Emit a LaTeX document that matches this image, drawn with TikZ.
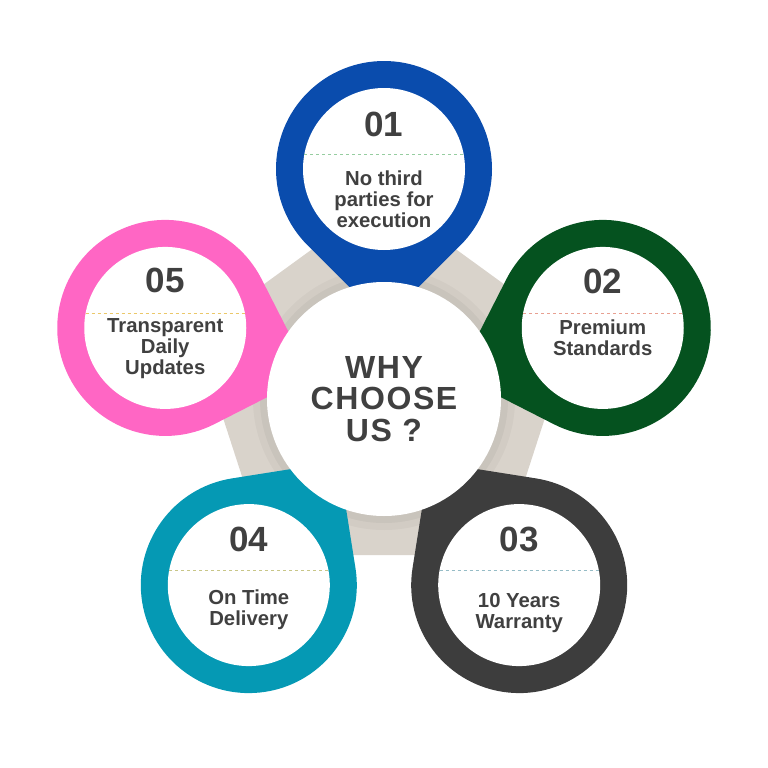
\documentclass[tikz,border=0pt]{standalone}
\usepackage{fontspec}
\setmainfont{Liberation Sans}
\usetikzlibrary{calc}
\definecolor{cblue}{HTML}{0A4CAD}
\definecolor{cgreen}{HTML}{05521F}
\definecolor{cgray}{HTML}{3D3D3D}
\definecolor{cteal}{HTML}{0599B4}
\definecolor{cpink}{HTML}{FF66C4}
\definecolor{beige}{HTML}{D9D3CB}
\definecolor{chu}{HTML}{404040}
\begin{document}
\begin{tikzpicture}[x=1pt,y=-1pt,
 so/.style={text=chu,inner sep=0pt,font=\bfseries\fontsize{35}{35}\selectfont},
 chu/.style={text=chu,inner sep=0pt,align=center,font=\bfseries\fontsize{20.3}{21}\selectfont},
 gach/.style={dashed,line width=.8pt},
 ]
 \useasboundingbox (0,0) rectangle (768,768);
 \coordinate (O) at (384,399);
 \coordinate (Q) at (384,395);
 \coordinate (P1) at ($(O)+(270:230)$);
 \coordinate (P2) at ($(O)+(342:230)$);
 \coordinate (P3) at ($(O)+(54:230)$);
 \coordinate (P4) at ($(O)+(126:230)$);
 \coordinate (P5) at ($(O)+(198:230)$);
 % nen ngu giac
 \fill[beige] ($(Q)+(270:198)$) -- ($(Q)+(342:198)$) -- ($(Q)+(54:198)$)
 -- ($(Q)+(126:198)$) -- ($(Q)+(198:198)$) -- cycle;
 \fill[black,opacity=.03] (O) circle[radius=131];
 \fill[black,opacity=.04] (O) circle[radius=124];
 % cac giot
 \fill[cblue] ($(P1)+(90:152.7)$) -- ($(P1)+(135:108)$) arc[start angle=135,end angle=405,radius=108] -- cycle;
 \fill[cgreen] ($(P2)+(162:152.7)$) -- ($(P2)+(207:108)$) arc[start angle=207,end angle=477,radius=108] -- cycle;
 \fill[cgray] ($(P3)+(234:152.7)$) -- ($(P3)+(279:108)$) arc[start angle=279,end angle=549,radius=108] -- cycle;
 \fill[cteal] ($(P4)+(306:152.7)$) -- ($(P4)+(351:108)$) arc[start angle=351,end angle=621,radius=108] -- cycle;
 \fill[cpink] ($(P5)+(18:152.7)$) -- ($(P5)+(63:108)$) arc[start angle=63,end angle=333,radius=108] -- cycle;
 \fill[white] (P1) circle[radius=81] (P2) circle[radius=81] (P3) circle[radius=81]
 (P4) circle[radius=81] (P5) circle[radius=81];
 \fill[white] (O) circle[radius=117];
 % duong gach
 \draw[gach,color={rgb,255:red,150;green,205;blue,160}] ($(P1)+(-79.6,-15)$) -- +(159.2,0);
 \draw[gach,color={rgb,255:red,232;green,160;blue,145}] ($(P2)+(-79.6,-15)$) -- +(159.2,0);
 \draw[gach,color={rgb,255:red,150;green,188;blue,198}] ($(P3)+(-79.6,-15)$) -- +(159.2,0);
 \draw[gach,color={rgb,255:red,200;green,198;blue,135}] ($(P4)+(-79.6,-15)$) -- +(159.2,0);
 \draw[gach,color={rgb,255:red,235;green,200;blue,105}] ($(P5)+(-79.6,-15)$) -- +(159.2,0);
 % chu
 \node[text=chu,align=center,inner sep=0pt,
 font=\bfseries\fontsize{32}{31.5}\selectfont\addfontfeature{LetterSpace=5}] (C) at (O) {WHY\\CHOOSE\\US ?};
 \path
 ($(P1)+(0,-45)$) node[so] (N1) {01} % <<< giot 1
 ($(P1)+(0,30)$) node[chu] (T1) {No third\\parties for\\execution}
 ($(P2)+(0,-46)$) node[so] (N2) {02} % <<< giot 2
 ($(P2)+(0,10)$) node[chu] (T2) {Premium\\Standards}
 ($(P3)+(0,-46)$) node[so] (N3) {03} % <<< giot 3
 ($(P3)+(0,28)$) node[chu] (T3) {10 Years\\Warranty}
 ($(P4)+(0,-46)$) node[so] (N4) {04} % <<< giot 4
 ($(P4)+(0,25)$) node[chu] (T4) {On Time\\Delivery}
 ($(P5)+(0,-47)$) node[so] (N5) {05} % <<< giot 5
 ($(P5)+(0,21)$) node[chu] (T5) {Transparent\\Daily\\Updates};
\end{tikzpicture}
\end{document}
